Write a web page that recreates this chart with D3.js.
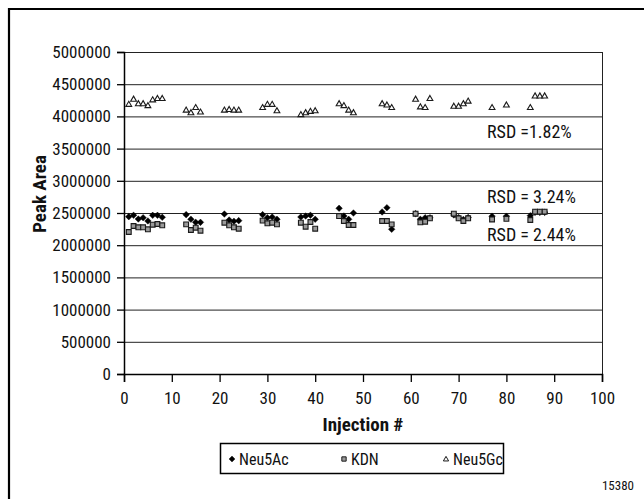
<!DOCTYPE html>
<html><head><meta charset="utf-8">
<script src="https://cdn.jsdelivr.net/npm/d3@7/dist/d3.min.js"></script>
<style>
html,body{margin:0;padding:0;background:#fff;}
svg text{font-family:"Liberation Sans Narrow","Roboto Condensed","Arial Narrow","DejaVu Sans Condensed",sans-serif;fill:#111;}
</style></head><body>
<svg id="c" width="644" height="499"></svg>
<script>
const injections = [1,2,3,4,5,6,7,8, 13,14,15,16, 21,22,23,24, 29,30,31,32, 37,38,39,40, 45,46,47,48, 54,55,56, 61,62,63,64, 69,70,71,72, 77,80, 85,86,87,88];
const neu5Ac = [2443000,2464000,2407000,2427000,2376000,2464000,2464000,2433000,
  2474000,2402000,2355000,2355000, 2484000,2391000,2371000,2381000,
  2474000,2427000,2438000,2402000, 2438000,2453000,2464000,2402000,
  2573000,2453000,2402000,2500000, 2516000,2582000,2247000,
  2490000,2402000,2427000,2427000, 2470000,2430000,2400000,2430000,
  2450000,2450000, 2458000,2510000,2510000,2510000];
const kdn = [2205000,2298000,2278000,2278000,2247000,2318000,2329000,2309000,
  2324000,2236000,2272000,2225000, 2349000,2309000,2278000,2256000,
  2381000,2340000,2349000,2324000, 2349000,2287000,2360000,2256000,
  2453000,2376000,2314000,2314000, 2376000,2376000,2324000,
  2489000,2355000,2365000,2418000, 2489000,2418000,2376000,2418000,
  2400000,2410000, 2391000,2520000,2520000,2520000];
const neu5Gc = [4190000,4270000,4200000,4200000,4170000,4260000,4280000,4280000,
  4100000,4060000,4140000,4070000, 4100000,4110000,4100000,4100000,
  4140000,4190000,4190000,4090000, 4030000,4060000,4080000,4090000,
  4200000,4170000,4100000,4060000, 4200000,4180000,4140000,
  4270000,4150000,4140000,4280000, 4160000,4160000,4200000,4240000,
  4140000,4180000, 4140000,4320000,4320000,4320000];
const seriesNames = ["Neu5Ac","KDN","Neu5Gc"];
const yTicks = [0,500000,1000000,1500000,2000000,2500000,3000000,3500000,4000000,4500000,5000000];
const xTicks = [0,10,20,30,40,50,60,70,80,90,100];
const rsdLabels = [{text:"RSD =1.82%", v:3665000},{text:"RSD = 3.24%", v:2655000},{text:"RSD = 2.44%", v:2065000}];

const FONT='"Liberation Sans Narrow","Roboto Condensed","Arial Narrow","DejaVu Sans Condensed",sans-serif';
const svg = d3.select("#c");
svg.append("path").attr("d","M9,505 L9,9 L650,9").attr("fill","none").attr("stroke","#000").attr("stroke-width",2.2);

const L=124, R=602, T=52, B=374;
const x = d3.scaleLinear().domain([0,100]).range([L,R]);
const y = d3.scaleLinear().domain([0,5000000]).range([B,T]);

svg.append("g").selectAll("line").data(yTicks.filter(d=>d>0)).join("line")
  .attr("x1",L).attr("x2",R).attr("y1",d=>y(d)+0.5).attr("y2",d=>y(d)+0.5)
  .attr("stroke","#222").attr("stroke-width",1);
svg.append("line").attr("x1",R+0.5).attr("x2",R+0.5).attr("y1",T).attr("y2",B).attr("stroke","#222");

const ya = svg.append("g").attr("transform",`translate(${L},0)`)
  .call(d3.axisLeft(y).tickValues(yTicks).tickFormat(d3.format("d")).tickSize(7).tickPadding(6));
const xa = svg.append("g").attr("transform",`translate(0,${B})`)
  .call(d3.axisBottom(x).tickValues(xTicks).tickSize(8).tickPadding(10));
[ya,xa].forEach(g=>{
  g.select(".domain").attr("stroke","#000").attr("stroke-width",1.5);
  g.selectAll(".tick line").attr("stroke","#000").attr("stroke-width",1.3);
  g.selectAll(".tick text").attr("font-size",17).attr("fill","#1a1a1a").style("font-family",FONT);
});

svg.append("text").attr("transform","translate(46,194) rotate(-90)").attr("text-anchor","middle")
  .attr("font-size",19).attr("font-weight","bold").text("Peak Area");
svg.append("text").attr("x",(L+R)/2).attr("y",431).attr("text-anchor","middle")
  .attr("font-size",19).attr("font-weight","bold").text("Injection #");

const diamond = (cx,cy,s)=>`M${cx},${cy-s}L${cx+s},${cy}L${cx},${cy+s}L${cx-s},${cy}Z`;
const square = (cx,cy,s)=>`M${cx-s},${cy-s}h${2*s}v${2*s}h${-2*s}Z`;
const tri = (cx,cy,s)=>`M${cx},${cy-s}L${cx+s},${cy+s*0.75}L${cx-s},${cy+s*0.75}Z`;
const shape = (k,cx,cy,sc)=> k==="d"?diamond(cx,cy,3.3*sc):k==="s"?square(cx,cy,2.4*sc):tri(cx,cy,2.9*sc);
const fillOf = k=> k==="d"?"#000":k==="s"?"#9a9a9a":"#fff";

function drawSeries(vals, kind){
  svg.append("g").selectAll("path").data(injections.map((inj,i)=>[inj,vals[i]])).join("path")
    .attr("d",d=>shape(kind,x(d[0]),y(d[1]),1))
    .attr("fill",fillOf(kind))
    .attr("stroke",kind==="d"?"#000":"#1a1a1a").attr("stroke-width",kind==="d"?0.4:1.1);
}
drawSeries(neu5Ac,"d");
drawSeries(kdn,"s");
drawSeries(neu5Gc,"t");

svg.append("g").selectAll("text").data(rsdLabels).join("text")
  .attr("x",487).attr("y",d=>y(d.v)).attr("font-size",18).text(d=>d.text);

const lg = svg.append("g");
lg.append("rect").attr("x",220.5).attr("y",443.5).attr("width",283).attr("height",30)
  .attr("fill","#fff").attr("stroke","#000").attr("stroke-width",1.5);
const legX = [232,344,446];
const kinds = ["d","s","t"];
seriesNames.forEach((n,i)=>{
  const cx=legX[i], cy=459, k=kinds[i];
  lg.append("path").attr("d",shape(k,cx,cy,0.9))
    .attr("fill",fillOf(k)).attr("stroke",k==="d"?"#000":"#1a1a1a").attr("stroke-width",k==="d"?0.4:1);
  lg.append("text").attr("x",cx+7).attr("y",465).attr("font-size",16).text(n);
});

svg.append("text").attr("x",634).attr("y",490).attr("text-anchor","end").attr("font-size",13).text("15380");
</script>
</body></html>
